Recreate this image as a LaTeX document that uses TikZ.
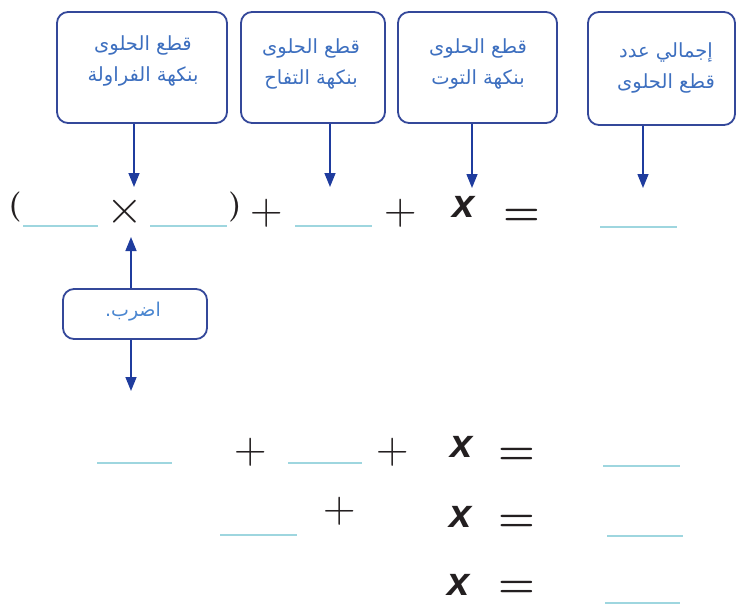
\documentclass[tikz,border=0pt]{standalone}
\usepackage{fontspec}
\usetikzlibrary{arrows.meta}
\TeXXeTstate=1
\newfontfamily\arabicfont[Script=Arabic]{DejaVu Sans}
\newfontfamily\xfont{Liberation Sans}
\definecolor{boxblue}{HTML}{34489A}
\definecolor{arrblue}{HTML}{1F3C9E}
\definecolor{txtblue}{HTML}{3D6FBF}
\definecolor{lbltxt}{HTML}{4A86D0}
\definecolor{blankc}{HTML}{9ED6DF}
\definecolor{symc}{HTML}{231F20}
\begin{document}
\begin{tikzpicture}[x=1pt,y=-1pt,
  frame/.style={draw=boxblue,line width=1.8pt,rounded corners=11pt,inner sep=0pt},
  boxtext/.style={text=txtblue,align=center,font=\arabicfont\fontsize{19.5}{31}\selectfont,inner sep=0pt},
  arr/.style={draw=arrblue,line width=1.5pt,-{Triangle[width=11pt,length=14pt]}},
  blank/.style={draw=blankc,line width=1.8pt},
  sym/.style={text=symc,inner sep=0pt,font=\fontsize{45}{45}\selectfont},
  tsym/.style={text=symc,inner sep=0pt,font=\fontsize{48}{48}\selectfont},
  par/.style={text=symc,inner sep=0pt,font=\bfseries\fontsize{30}{30}\selectfont},
  xvar/.style={text=symc,inner sep=0pt,font=\xfont\bfseries\itshape\fontsize{40}{40}\selectfont},
  eqs/.style={text=symc,inner sep=0pt,font=\bfseries\fontsize{42}{42}\selectfont}]
\useasboundingbox (0,0) rectangle (739,605);

% top boxes
\node[frame,minimum width=170pt,minimum height=111pt] (b1) at (142,67.5) {};
\node[frame,minimum width=144pt,minimum height=111pt] (b2) at (313,67.5) {};
\node[frame,minimum width=159pt,minimum height=111pt] (b3) at (477.5,67.5) {};
\node[frame,minimum width=147pt,minimum height=113pt] (b4) at (661.5,68.5) {};
\node[boxtext] (t1) at (143,61) {\beginR قطع الحلوى\endR\\\beginR بنكهة الفراولة\endR};
\node[boxtext] (t2) at (311,63.5) {\beginR قطع الحلوى\endR\\\beginR بنكهة التفاح\endR};
\node[boxtext] (t3) at (478,63.5) {\beginR قطع الحلوى\endR\\\beginR بنكهة التوت\endR};
\node[boxtext] (t4) at (666,67.5) {\beginR إجمالي عدد\endR\\\beginR قطع الحلوى\endR};

\coordinate (a1) at (134,187);
\coordinate (a2) at (330,187);
\coordinate (a3) at (472,188);
\coordinate (a4) at (643,188);
\draw[arr] (b1.south -| a1) -- (a1);
\draw[arr] (b2.south -| a2) -- (a2);
\draw[arr] (b3.south -| a3) -- (a3);
\draw[arr] (b4.south -| a4) -- (a4);

% row 1
\node[par] (lp) at (15,207) {(};
\draw[blank] (23,226) -- (98,226);
\node[tsym] (times) at (125,212) {\scalebox{1.9}{$\times$}};
\draw[blank] (150,226) -- (227,226);
\node[par] (rp) at (235,207) {)};
\node[sym] (p1) at (267,213) {+};
\draw[blank] (295,226) -- (372,226);
\node[sym] (p2) at (401,213) {+};
\node[xvar] (x1) at (464,207) {x};
\node[eqs] (e1) at (522,217) {=};
\draw[blank] (600,227) -- (677,227);

% multiply box
\node[frame,minimum width=144pt,minimum height=50pt] (mb) at (135,314) {};
\node[text=lbltxt,inner sep=0pt,font=\arabicfont\fontsize{19}{21}\selectfont] (mt) at (133,312) {\beginR اضرب.\endR};
\coordinate (u1) at (131,237);
\coordinate (d1) at (131,391);
\draw[arr] (mb.north -| u1) -- (u1);
\draw[arr] (mb.south -| d1) -- (d1);

% row 2
\draw[blank] (97,463) -- (172,463);
\node[sym] (p3) at (251,452) {+};
\draw[blank] (288,463) -- (362,463);
\node[sym] (p4) at (393,452) {+};
\node[xvar] (x2) at (462,447) {x};
\node[eqs] (e2) at (517,456) {=};
\draw[blank] (603,466) -- (680,466);

% row 3
\draw[blank] (220,535) -- (297,535);
\node[sym] (p5) at (340,511) {+};
\node[xvar] (x3) at (461,517) {x};
\node[eqs] (e3) at (517,523) {=};
\draw[blank] (607,536) -- (683,536);

% row 4
\node[xvar] (x4) at (459,585) {x};
\node[eqs] (e4) at (517,589) {=};
\draw[blank] (605,603) -- (680,603);
\end{tikzpicture}
\end{document}
